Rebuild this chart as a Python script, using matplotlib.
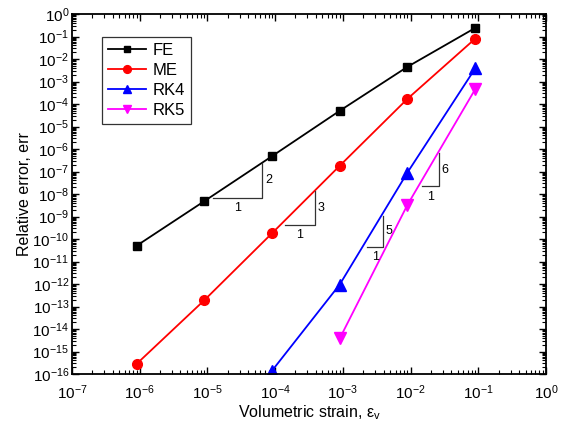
import numpy as np
import matplotlib
matplotlib.use("Agg")
import matplotlib.pyplot as plt
from matplotlib.ticker import LogLocator, FuncFormatter, NullFormatter

plt.rcParams['font.family'] = ['Liberation Sans', 'DejaVu Sans']
plt.rcParams['mathtext.fontset'] = 'custom'
plt.rcParams['mathtext.rm'] = 'Liberation Sans'
plt.rcParams['mathtext.it'] = 'Liberation Sans:italic'

# data
strain = [9e-7, 9e-6, 9e-5, 9e-4, 9e-3, 9e-2]
err_fe = [5e-11, 4.8e-9, 4.8e-7, 5e-5, 4.5e-3, 0.24]
err_me = [2.8e-16, 1.9e-13, 1.8e-10, 1.8e-7, 1.7e-4, 0.08]
strain_rk4 = [9e-5, 9e-4, 9e-3, 9e-2]
err_rk4 = [1.4e-16, 9.5e-13, 9e-8, 3.8e-3]
strain_rk5 = [9e-4, 9e-3, 9e-2]
err_rk5 = [3.8e-15, 3.3e-9, 4.5e-4]

# slope triangles: (x_left, x_right, y_bottom, y_top, rise label)
triangles = [
    (1.2e-5, 6.5e-5, 7e-9, 2.3e-7, "2"),
    (1.4e-4, 3.9e-4, 4.4e-10, 1.3e-8, "3"),
    (2.3e-3, 3.9e-3, 4.6e-11, 1.1e-9, "5"),
    (1.5e-2, 2.6e-2, 2.2e-8, 6.4e-7, "6"),
]

fig = plt.figure(figsize=(5.62, 4.21), dpi=100)
ax = fig.add_axes([0.128, 0.1116, 0.8435, 0.8551])

ax.plot(strain, err_fe, color='black', marker='s', markersize=6, lw=1.3, label='FE')
ax.plot(strain, err_me, color='red', marker='o', markersize=7, lw=1.3, label='ME')
ax.plot(strain_rk4, err_rk4, color='blue', marker='^', markersize=8, lw=1.3, label='RK4')
ax.plot(strain_rk5, err_rk5, color='magenta', marker='v', markersize=8, lw=1.3, label='RK5')

for x0, x1, y0, y1, lab in triangles:
    ax.plot([x0, x1, x1], [y0, y0, y1], color='#333333', lw=0.9)
    xm = np.sqrt(x0 * x1)
    ym = np.sqrt(y0 * y1)
    ax.text(x1 * 1.1, ym, lab, fontsize=9, ha='left', va='center')
    ax.text(xm, y0 / 2.9, "1", fontsize=9, ha='center', va='center')

ax.set_xscale('log')
ax.set_yscale('log')
ax.set_xlim(1e-7, 1e0)
ax.set_ylim(1e-16, 1e0)

ax.xaxis.set_major_locator(LogLocator(base=10, numticks=20))
ax.yaxis.set_major_locator(LogLocator(base=10, numticks=30))
ax.xaxis.set_minor_locator(LogLocator(base=10, subs=np.arange(2, 10), numticks=20))
ax.yaxis.set_minor_locator(LogLocator(base=10, subs=np.arange(2, 10), numticks=30))
fmt = FuncFormatter(lambda v, p: r'$\mathregular{10^{%d}}$' % int(round(np.log10(v))))
ax.xaxis.set_major_formatter(fmt)
ax.yaxis.set_major_formatter(fmt)
ax.xaxis.set_minor_formatter(NullFormatter())
ax.yaxis.set_minor_formatter(NullFormatter())

ax.tick_params(which='both', direction='in', top=True, right=True, labelsize=11)
ax.tick_params(which='major', length=5, width=1)
ax.tick_params(which='minor', length=3, width=0.8)
ax.tick_params(axis='x', which='major', pad=7)
ax.tick_params(axis='y', which='major', pad=2)
for s in ax.spines.values():
    s.set_linewidth(1.3)

ax.set_xlabel(r'Volumetric strain, $\mathregular{\epsilon_v}$', fontsize=11.5, labelpad=1)
ax.set_ylabel('Relative error, err', fontsize=11.5, labelpad=0)

leg = ax.legend(loc='upper left', bbox_to_anchor=(0.063, 0.935), fontsize=12,
                frameon=True, fancybox=False, edgecolor='black', handlelength=2.3,
                borderpad=0.35, labelspacing=0.3, handletextpad=0.4, markerscale=0.8,
                borderaxespad=0)
leg.get_frame().set_linewidth(0.9)

fig.savefig('out.png', dpi=100)
